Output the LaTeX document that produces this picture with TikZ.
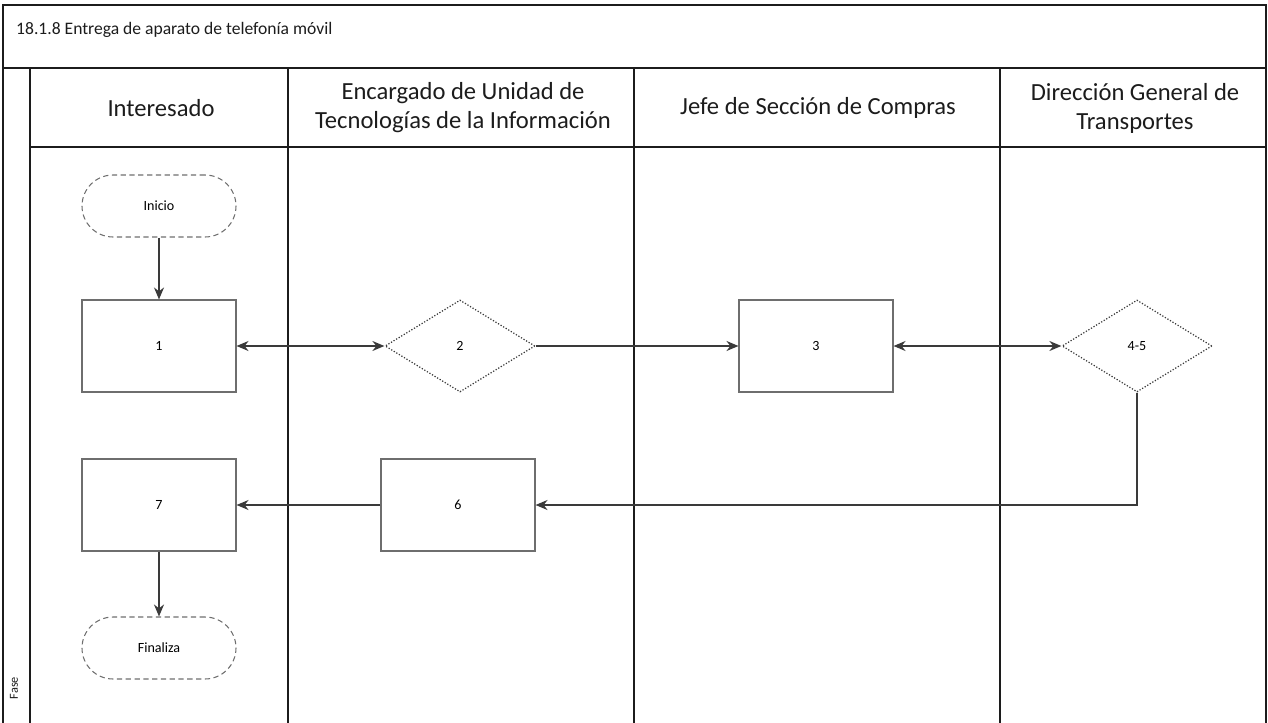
\documentclass[tikz,border=0pt]{standalone}
\usepackage{fontspec}
\setmainfont{Carlito}
\usepackage{tikz}
\usetikzlibrary{arrows.meta,positioning,shapes.geometric}
\definecolor{Ink}{HTML}{1C1C1C}
\definecolor{Edge}{HTML}{3A3A3A}
\definecolor{Box}{HTML}{6E6E6E}

\begin{document}
\begin{tikzpicture}[
  x=0.2mm,y=-0.2mm,
  frame/.style={draw=Ink,line width=1.3pt},
  lane/.style={draw=Ink,line width=0.9pt},
  head/.style={font=\fontsize{14}{16.5}\selectfont,text=Ink,align=center},
  proc/.style={draw=Box,line width=0.6pt,minimum width=30.8mm,minimum height=18.4mm,inner sep=0pt,font=\fontsize{8}{9}\selectfont},
  term/.style={draw=Box,line width=0.6pt,densely dashed,rounded corners=6.2mm,minimum width=30.8mm,minimum height=12.4mm,inner sep=0pt,font=\fontsize{8}{9}\selectfont},
  dec/.style={diamond,draw=Edge,line width=0.7pt,densely dotted,minimum width=30mm,minimum height=18.4mm,inner sep=0pt,font=\fontsize{8}{9}\selectfont},
  arr/.style={-{Stealth[length=2.4mm,width=2mm]},line width=0.9pt,draw=Edge},
  arrboth/.style={{Stealth[length=2.4mm,width=2mm]}-{Stealth[length=2.4mm,width=2mm]},line width=0.9pt,draw=Edge}
]
\useasboundingbox (0,0) rectangle (1268,723);

% marco y carriles
\draw[frame] (3,723) -- (3,5) -- (1266,5) -- (1266,723);
\draw[frame] (3,68) -- (1266,68);
\draw[lane] (30,147) -- (1266,147);
\foreach \lx in {30,288,634,1000}
  \draw[lane] (\lx,68) -- (\lx,723);

\node[anchor=west,font=\fontsize{10}{12}\selectfont,text=Ink] (titulo) at (10,30) {18.1.8 Entrega de aparato de telefonía móvil};
\node[head] (hInt) at (161,108) {Interesado};
\node[head] (hTI) at (463,108) {Encargado de Unidad de\\Tecnologías de la Información};
\node[head] (hCom) at (818,108) {Jefe de Sección de Compras};
\node[head] (hDGT) at (1135,108) {Dirección General de\\Transportes};
\node[rotate=90,font=\fontsize{7}{8}\selectfont,text=Ink] (fase) at (14,688) {Fase};

% pasos
\node[term] (inicio) at (159,206) {Inicio};
\node[proc] (p1) at (159,346) {1};
\node[dec] (p2) at (460,346) {2};
\node[proc] (p3) at (816,346) {3};
\node[dec] (p45) at (1137,346) {4-5};
\node[proc] (p6) at (458,505) {6};
\node[proc] (p7) at (159,505) {7};
\node[term] (fin) at (159,648) {Finaliza};

\draw[arr] (inicio) -- (p1);
\draw[arrboth] (p1) -- (p2);
\draw[arr] (p2) -- (p3);
\draw[arrboth] (p3) -- (p45);
\draw[arr] (p45.south) |- (p6.east);
\draw[arr] (p6) -- (p7);
\draw[arr] (p7) -- (fin);
\end{tikzpicture}
\end{document}
